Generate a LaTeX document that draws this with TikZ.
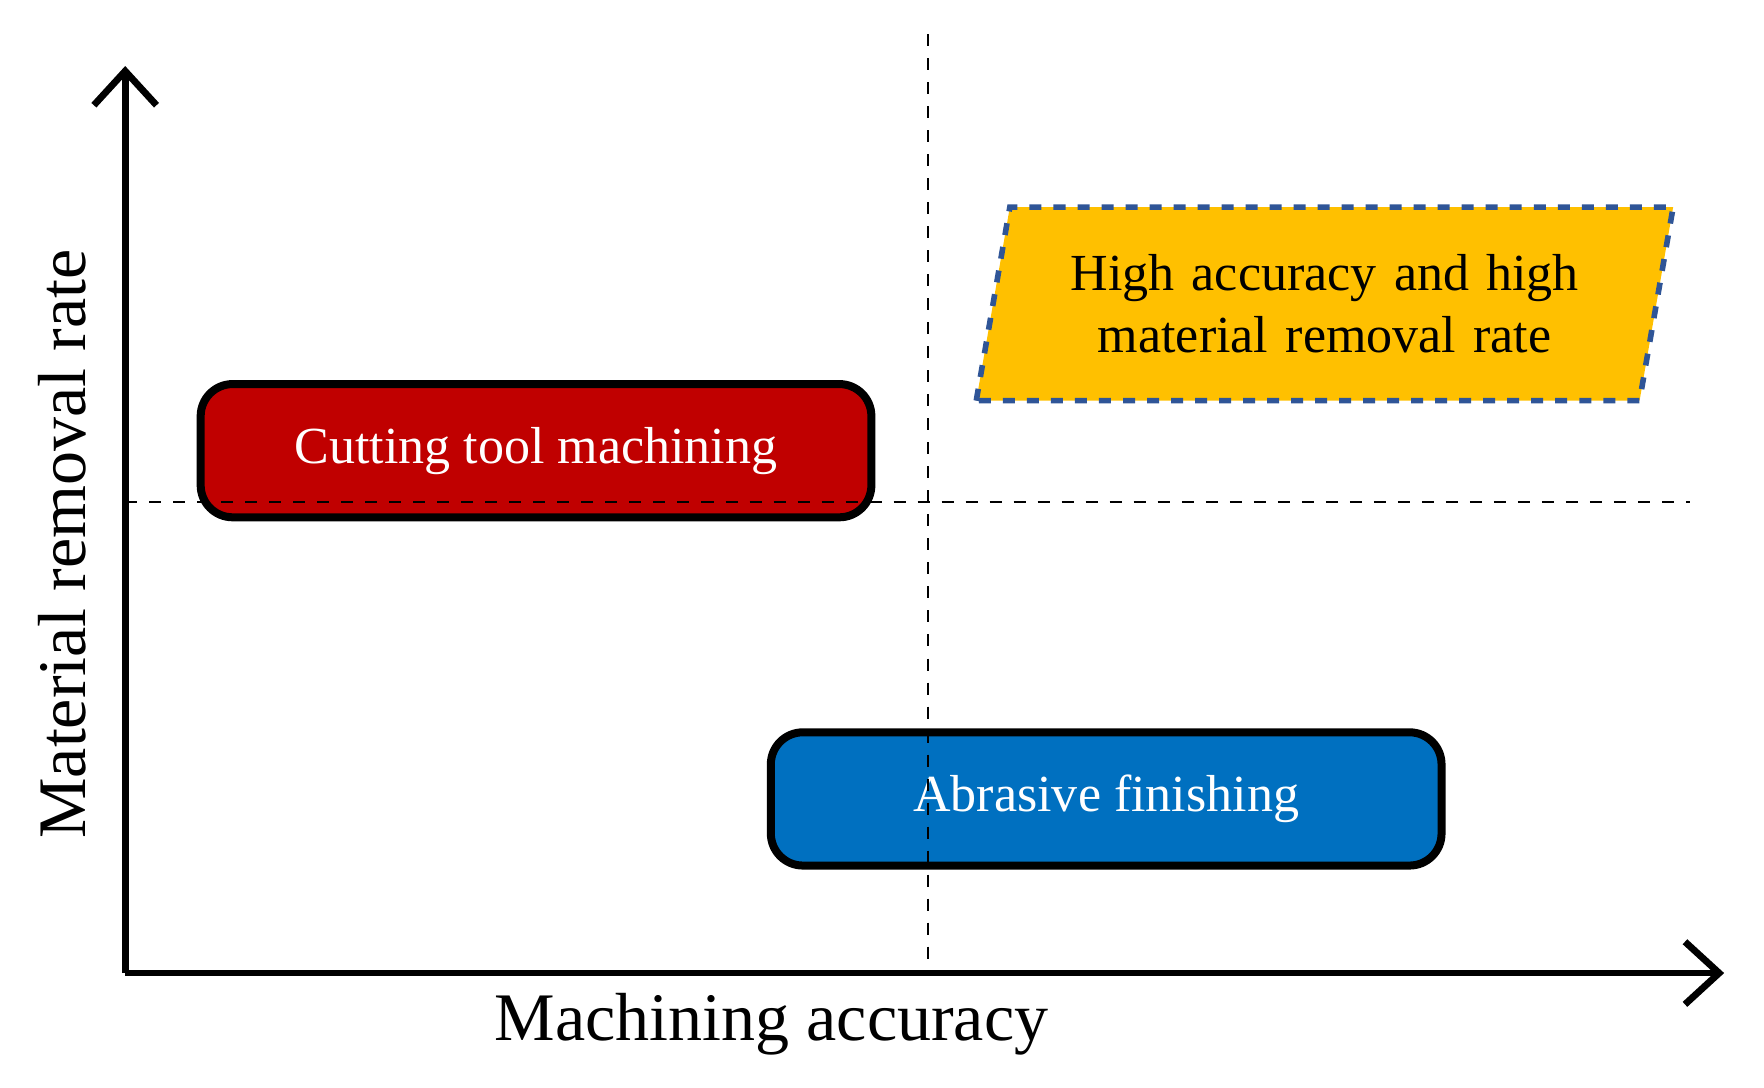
\documentclass[tikz,border=0pt]{standalone}
\usepackage{fontspec}
\setmainfont{Liberation Serif}
\usetikzlibrary{shapes.geometric, arrows.meta, positioning}
\definecolor{boxred}{RGB}{192,0,0}
\definecolor{boxblue}{RGB}{0,112,192}
\definecolor{boxgold}{RGB}{255,192,0}
\definecolor{dashblue}{RGB}{47,85,151}
\tikzset{
  region/.style={rectangle, rounded corners=8pt, minimum width=5.89cm, minimum height=1.17cm, text centered, draw=black, line width=2pt, text=white, font=\fontsize{13}{15}\selectfont},
  target/.style={trapezium, trapezium left angle=75, trapezium right angle=105, trapezium stretches body, minimum width=6.12cm, minimum height=1.7cm, inner xsep=0pt, text centered, draw=dashblue, dashed, line width=1.4pt, fill=boxgold, text width=4.6cm, align=center, font=\fontsize{13}{15.5}\selectfont},
  axis/.style={line width=1.7pt, -{Straight Barb[length=0.3cm, width=0.55cm, line width=1.7pt]}},
  guide/.style={dashed, line width=0.5pt},
  axislabel/.style={font=\fontsize{17}{20}\selectfont}
}
\begin{document}
\begin{tikzpicture}[x=0.01cm, y=-0.01cm]
  \useasboundingbox (0,0) rectangle (1550,956);
  \coordinate (origin) at (110,855);
  \coordinate (ytip) at (110,58);
  \coordinate (xtip) at (1515,855);
  \coordinate (vtop) at (815,30);
  \coordinate (vbot) at (815,855);
  \coordinate (hleft) at (110,441);
  \coordinate (hright) at (1485,441);

  \node (cutting) [region, fill=boxred] at (471,396) {Cutting tool machining};
  \node (abrasive) [region, fill=boxblue] at (972,702) {Abrasive finishing};
  \node (goal) [target] at (1164,267) {High accuracy and high material removal rate};

  \draw [guide] (vtop) -- (vbot);
  \draw [guide] (hleft) -- (hright);
  \draw [axis] (origin) -- (ytip);
  \draw [axis] (origin) -- (xtip);

  \node (xlabel) [axislabel] at (678,900) {Machining accuracy};
  \node (ylabel) [axislabel, rotate=90] at (55,478) {Material removal rate};
\end{tikzpicture}
\end{document}
